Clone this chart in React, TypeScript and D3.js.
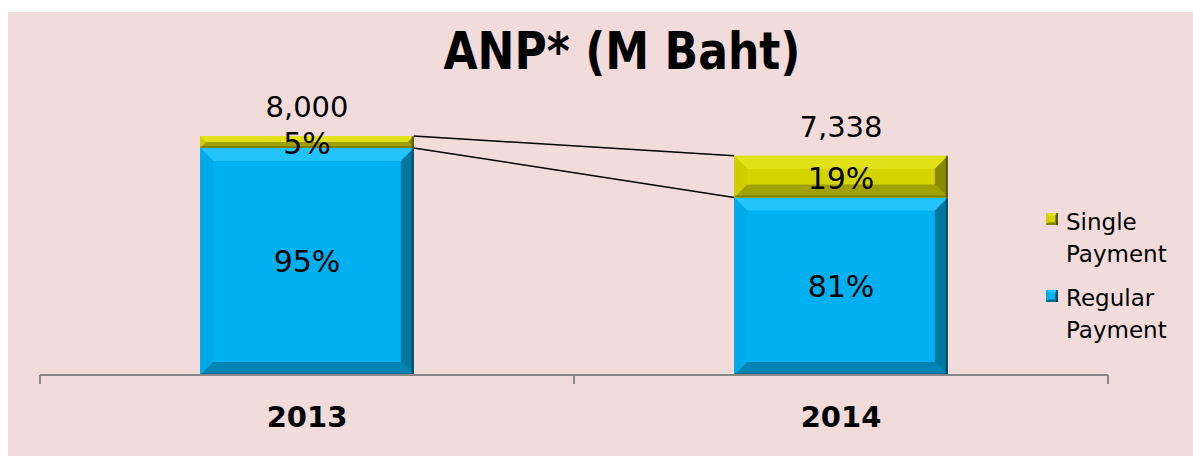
import React from "react";
import * as d3 from "d3";

const years = ["2013", "2014"];
const totals = [8000, 7338];
const regularShare = [95, 81];
const singleShare = [5, 19];
const totalLabels = ["8,000", "7,338"];

const W = 1193;
const H = 456;
const FONT = "'DejaVu Sans', Verdana, sans-serif";

const palette = {
  regular: { face: "#00B0F0", top: "#22C4FA", left: "#00AAEA", right: "#00779F", bottom: "#0084B2" },
  single: { face: "#D4D400", top: "#E2E21A", left: "#CDCD00", right: "#8A8A00", bottom: "#A0A000" },
};

type Pal = typeof palette.regular;

function Bevel({ x, y, w, h, pal, b }: { x: number; y: number; w: number; h: number; pal: Pal; b: number }) {
  const bb = Math.min(b, h / 2, w / 2);
  const x2 = x + w;
  const y2 = y + h;
  const pts = (a: number[][]) => a.map((p) => p.join(",")).join(" ");
  return (
    <g>
      <rect x={x} y={y} width={w} height={h} fill={pal.face} />
      <polygon points={pts([[x, y], [x2, y], [x2 - bb, y + bb], [x + bb, y + bb]])} fill={pal.top} />
      <polygon points={pts([[x, y], [x + bb, y + bb], [x + bb, y2 - bb], [x, y2]])} fill={pal.left} />
      <polygon points={pts([[x2, y], [x2, y2], [x2 - bb, y2 - bb], [x2 - bb, y + bb]])} fill={pal.right} />
      <polygon points={pts([[x, y2], [x + bb, y2 - bb], [x2 - bb, y2 - bb], [x2, y2]])} fill={pal.bottom} />
      <line x1={x2 - 1} y1={y} x2={x2 - 1} y2={y2} stroke="#000" strokeOpacity={0.4} strokeWidth={2} />
      <line x1={x} y1={y2 - 1} x2={x2} y2={y2 - 1} stroke="#000" strokeOpacity={0.2} strokeWidth={2} />
    </g>
  );
}

export default function App() {
  const x = d3.scaleBand<string>().domain(years).range([40, 1108]).paddingInner(0.6).paddingOuter(0.3);
  const baseY = 375;
  const y = d3.scaleLinear().domain([0, 8000]).range([baseY, 136]);
  const bw = x.bandwidth();

  const stacks = years.map((yr, i) => {
    const reg = (totals[i] * regularShare[i]) / 100;
    return {
      yr,
      x0: x(yr)!,
      yTotal: y(totals[i]),
      yReg: y(reg),
    };
  });

  // category boundaries on the axis
  const ticks = [40, x(years[0])! + bw / 2 + x.step() / 2, 1108];

  return (
    <svg width={W} height={H} style={{ position: "absolute", left: 0, top: 0 }} fontFamily={FONT}>
      <rect x={8} y={12} width={W - 8} height={H - 12} fill="#F2DCDB" />
      <text x={622} y={69} textAnchor="middle" fontSize={52} fontWeight="bold" textLength={357} lengthAdjust="spacingAndGlyphs">
        ANP* (M Baht)
      </text>

      {/* series lines */}
      <line x1={stacks[0].x0 + bw} y1={stacks[0].yTotal} x2={stacks[1].x0} y2={stacks[1].yTotal} stroke="#000" strokeWidth={1.5} />
      <line x1={stacks[0].x0 + bw} y1={stacks[0].yReg} x2={stacks[1].x0} y2={stacks[1].yReg} stroke="#000" strokeWidth={1.5} />

      {stacks.map((s, i) => (
        <g key={s.yr}>
          <Bevel x={s.x0} y={s.yReg} w={bw} h={baseY - s.yReg} pal={palette.regular} b={13} />
          <Bevel x={s.x0} y={s.yTotal} w={bw} h={s.yReg - s.yTotal} pal={palette.single} b={13} />
          <text x={s.x0 + bw / 2} y={(s.yReg + baseY) / 2 + 11} textAnchor="middle" fontSize={30}>
            {regularShare[i]}%
          </text>
          <text x={s.x0 + bw / 2} y={(s.yTotal + s.yReg) / 2 + 12} textAnchor="middle" fontSize={30}>
            {singleShare[i]}%
          </text>
          <text x={s.x0 + bw / 2} y={s.yTotal - 19} textAnchor="middle" fontSize={29}>
            {totalLabels[i]}
          </text>
          <text x={s.x0 + bw / 2} y={427} textAnchor="middle" fontSize={29} fontWeight="bold">
            {s.yr}
          </text>
        </g>
      ))}

      {/* axis */}
      <line x1={40} y1={baseY} x2={1108} y2={baseY} stroke="#888" strokeWidth={2} />
      {ticks.map((t) => (
        <line key={t} x1={t} y1={baseY} x2={t} y2={baseY + 9} stroke="#888" strokeWidth={2} />
      ))}

      {/* legend */}
      <g fontSize={23}>
        <Bevel x={1046} y={213} w={12} h={12} pal={palette.single} b={3} />
        <text x={1066} y={230}>Single</text>
        <text x={1066} y={262}>Payment</text>
        <Bevel x={1046} y={290} w={12} h={12} pal={palette.regular} b={3} />
        <text x={1066} y={306}>Regular</text>
        <text x={1066} y={338}>Payment</text>
      </g>
    </svg>
  );
}
